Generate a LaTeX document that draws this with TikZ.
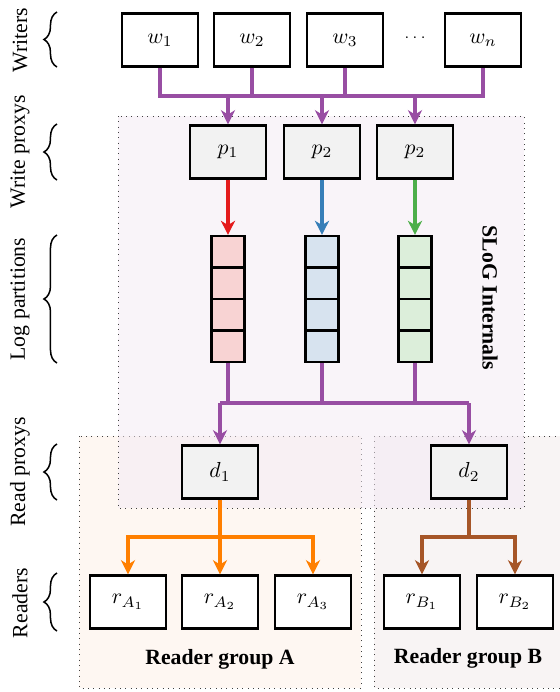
\documentclass[tikz,border=0pt]{standalone}
\usepackage[no-math]{fontspec}
\setmainfont{Liberation Serif}
\usetikzlibrary{arrows.meta,decorations.pathreplacing}

\definecolor{cpurple}{HTML}{984EA3}
\definecolor{cred}{HTML}{E41A1C}
\definecolor{cblue}{HTML}{377EB8}
\definecolor{cgreen}{HTML}{4DAF4A}
\definecolor{corange}{HTML}{FF7F00}
\definecolor{cbrown}{HTML}{A65628}
\definecolor{lred}{HTML}{F8D3D3}
\definecolor{lblue}{HTML}{D7E3EF}
\definecolor{lgreen}{HTML}{DCEEDA}
\definecolor{grpA}{HTML}{FEF7F2}
\definecolor{grpB}{HTML}{F8F4F4}
\definecolor{inner}{HTML}{F4EAF4}

\tikzset{
  box/.style={draw, line width=1.1pt, fill=white, minimum width=35pt,
    minimum height=24.4pt, inner sep=0pt},
  proxy/.style={box, fill=gray!10},
  cell/.style={draw, line width=1pt, minimum width=15.2pt,
    minimum height=14.5pt, inner sep=0pt},
  bus/.style={line width=1.6pt},
  link/.style={bus, -{Stealth[length=6.5pt,width=6.5pt,inset=2pt]}},
  frame/.style={dotted, line width=0.45pt, draw=black!75},
  side/.style={rotate=90},
  sidebrace/.style={decorate, decoration={brace, amplitude=6pt}, line width=0.7pt},
}

\begin{document}
\begin{tikzpicture}[x=0.46pt, y=-0.46pt]
  \useasboundingbox (0,0) rectangle (560,692);

  % groups and internals
  \draw[frame, fill=grpA] (79,436) rectangle (361,688);
  \draw[frame, fill=grpB] (374,436) rectangle (575,688);
  \draw[frame, fill=inner, fill opacity=0.5] (118,116) rectangle (524,508);
  \path (490,298) node[rotate=-90, font=\bfseries] (internals) {SLoG Internals};
  \path (220,659) node[font=\bfseries] (groupA) {Reader group A};
  \path (468,658) node[font=\bfseries] (groupB) {Reader group B};

  % writers
  \path (160,40) node[box] (w1) {$w_1$};
  \path (252,40) node[box] (w2) {$w_2$};
  \path (345,40) node[box] (w3) {$w_3$};
  \path (415,38) node[font=\scriptsize] (wdots) {$\cdots$};
  \path (483,40) node[box] (wn) {$w_n$};

  % write proxys
  \path (228,152) node[proxy] (p1) {$p_1$};
  \path (322,152) node[proxy] (p2) {$p_2$};
  \path (415,152) node[proxy] (p3) {$p_2$};

  % log partitions
  \foreach \i/\x/\c in {1/228/lred, 2/322/lblue, 3/415/lgreen}
    \foreach \j in {1,...,4}
      \path (\x,{236+15.75+(\j-1)*31.5}) node[cell, fill=\c] (l\i\j) {};

  % read proxys
  \path (220,472) node[proxy] (d1) {$d_1$};
  \path (469,472) node[proxy] (d2) {$d_2$};

  % readers
  \path (128,602) node[box] (rA1) {$r_{A_1}$};
  \path (220,602) node[box] (rA2) {$r_{A_2}$};
  \path (313,602) node[box] (rA3) {$r_{A_3}$};
  \path (422,602) node[box] (rB1) {$r_{B_1}$};
  \path (515,602) node[box] (rB2) {$r_{B_2}$};

  % writers -> write proxys
  \coordinate (wb) at (0,96);
  \draw[bus, cpurple] (w1) |- (wn |- wb) -- (wn);
  \foreach \n in {w2,w3}
    \draw[bus, cpurple] (\n) -- (\n |- wb);
  \foreach \n in {p1,p2,p3}
    \draw[link, cpurple] (\n |- wb) -- (\n);

  % write proxys -> partitions
  \draw[link, cred] (p1) -- (l11);
  \draw[link, cblue] (p2) -- (l21);
  \draw[link, cgreen] (p3) -- (l31);

  % partitions -> read proxys
  \coordinate (rb) at (0,403);
  \foreach \i in {1,2,3}
    \draw[bus, cpurple] (l\i4) -- (l\i4 |- rb);
  \draw[bus, cpurple] (d1 |- rb) -- (d2 |- rb);
  \draw[link, cpurple] (d1 |- rb) -- (d1);
  \draw[link, cpurple] (d2 |- rb) -- (d2);

  % read proxys -> readers
  \coordinate (ab) at (0,537);
  \draw[link, corange] (d1) -- (rA2);
  \draw[link, corange] (d1 |- ab) -| (rA1);
  \draw[link, corange] (d1 |- ab) -| (rA3);
  \draw[bus, cbrown] (d2) -- (d2 |- ab);
  \draw[link, cbrown] (d2 |- ab) -| (rB1);
  \draw[link, cbrown] (d2 |- ab) -| (rB2);

  % side labels
  \path (20,40) node[side] (lwriters) {Writers};
  \path (20,152) node[side] (lwproxy) {Write proxys};
  \path (20,299) node[side] (llog) {Log partitions};
  \path (20,472) node[side] (lrproxy) {Read proxys};
  \path (20,603) node[side] (lreaders) {Readers};
  \draw[sidebrace] (57,67) -- (57,12);
  \draw[sidebrace] (57,180) -- (57,124);
  \draw[sidebrace] (57,363) -- (57,235);
  \draw[sidebrace] (57,500) -- (57,444);
  \draw[sidebrace] (57,631) -- (57,573);
\end{tikzpicture}
\end{document}
